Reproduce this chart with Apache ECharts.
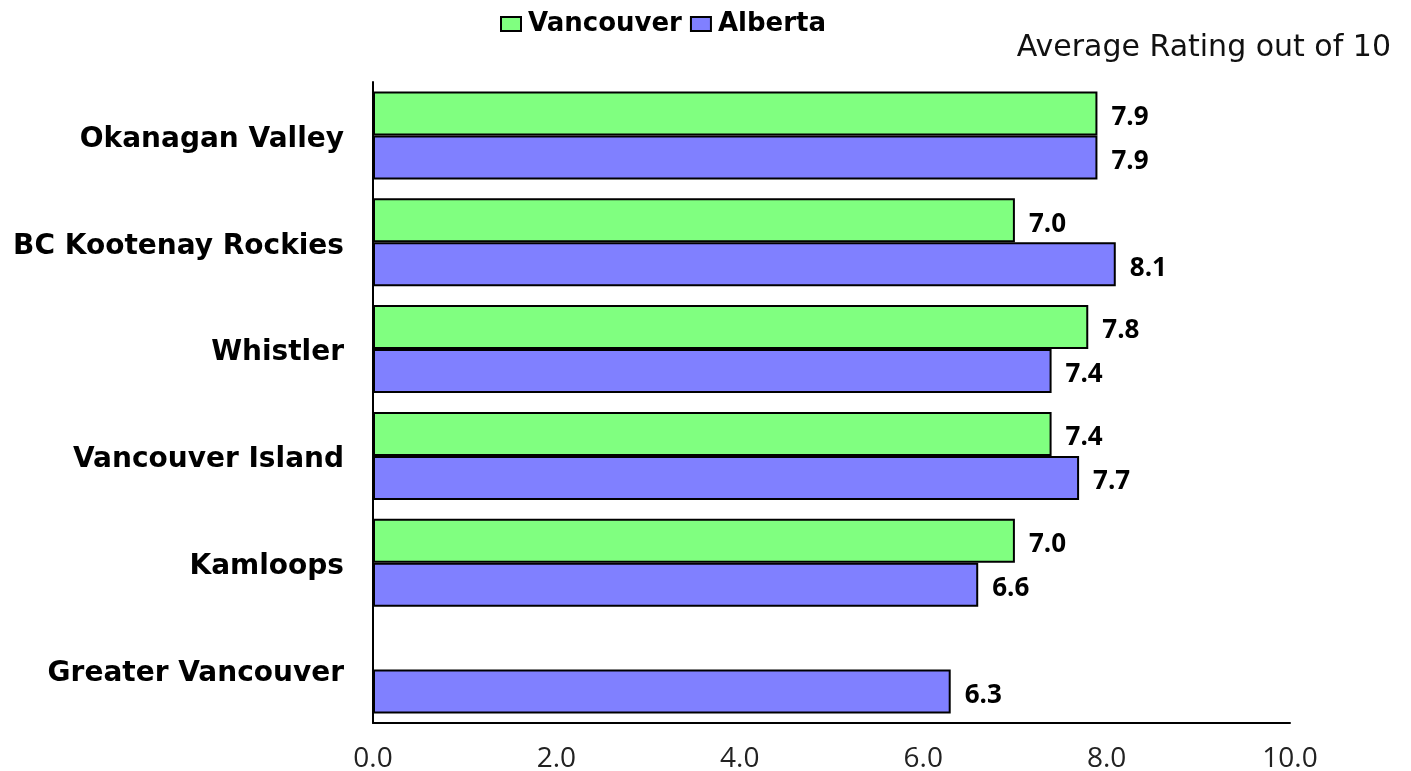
<!DOCTYPE html>
<html>
<head>
<meta charset="utf-8">
<script src="https://cdn.jsdelivr.net/npm/echarts@6/dist/echarts.min.js"></script>
<style>
  html, body { margin: 0; padding: 0; background: #fff; }
  #main { width: 1411px; height: 771px; }
</style>
</head>
<body>
<div id="main"></div>
<script>
// 数据
var categories = ['Okanagan Valley', 'BC Kootenay Rockies', 'Whistler', 'Vancouver Island', 'Kamloops', 'Greater Vancouver'];
var vancouverValues = [7.9, 7.0, 7.8, 7.4, 7.0, null];
var albertaValues = [7.9, 8.1, 7.4, 7.7, 6.6, 6.3];
var xTicks = [0, 2, 4, 6, 8, 10];

var myChart = echarts.init(document.getElementById('main'));

var valueLabel = {
    show: true,
    position: 'right',
    distance: 14,
    offset: [0, 4],
    color: '#000',
    fontFamily: 'Open Sans',
    fontWeight: 'bold',
    fontSize: 26,
    formatter: function (p) { return p.value.toFixed(1); }
};

var option = {
    animation: false,
    title: {
        text: 'Average Rating out of 10',
        right: 15,
        top: 28,
        textStyle: {
            fontFamily: 'DejaVu Sans',
            fontWeight: 'normal',
            fontSize: 30,
            color: '#111'
        }
    },
    legend: {
        left: 495,
        top: 6,
        icon: 'rect',
        itemWidth: 20,
        itemHeight: 14,
        itemGap: 8,
        itemStyle: { borderColor: '#000', borderWidth: 2 },
        textStyle: {
            fontFamily: 'DejaVu Sans',
            fontWeight: 'bold',
            fontSize: 26,
            color: '#000',
            padding: [0, 0, 0, 2]
        },
        data: ['Vancouver', 'Alberta']
    },
    grid: {
        left: 373,
        right: 121,
        top: 82,
        bottom: 48,
        outerBoundsMode: 'none',
        containLabel: false
    },
    xAxis: {
        type: 'value',
        min: xTicks[0],
        max: xTicks[xTicks.length - 1],
        interval: 2,
        splitLine: { show: false },
        axisTick: { show: false },
        axisLine: { show: true, lineStyle: { color: '#000', width: 2 } },
        axisLabel: {
            margin: 22,
            color: '#222',
            fontFamily: 'Open Sans',
            fontSize: 28,
            formatter: function (v) { return v.toFixed(1); }
        }
    },
    yAxis: {
        type: 'category',
        inverse: true,
        data: categories,
        axisTick: { show: false },
        axisLine: { show: true, lineStyle: { color: '#000', width: 2 } },
        axisLabel: {
            margin: 29,
            verticalAlign: 'top',
            lineHeight: 8,
            color: '#000',
            fontFamily: 'DejaVu Sans',
            fontWeight: 'bold',
            fontSize: 28
        }
    },
    series: [{
        name: 'Vancouver',
        type: 'bar',
        barWidth: 44,
        barGap: '0%',
        data: vancouverValues,
        itemStyle: { color: '#80ff80', borderColor: '#000', borderWidth: 2 },
        label: valueLabel
    }, {
        name: 'Alberta',
        type: 'bar',
        barWidth: 44,
        barGap: '0%',
        data: albertaValues,
        itemStyle: { color: '#8080ff', borderColor: '#000', borderWidth: 2 },
        label: valueLabel
    }]
};

myChart.setOption(option);
</script>
</body>
</html>
